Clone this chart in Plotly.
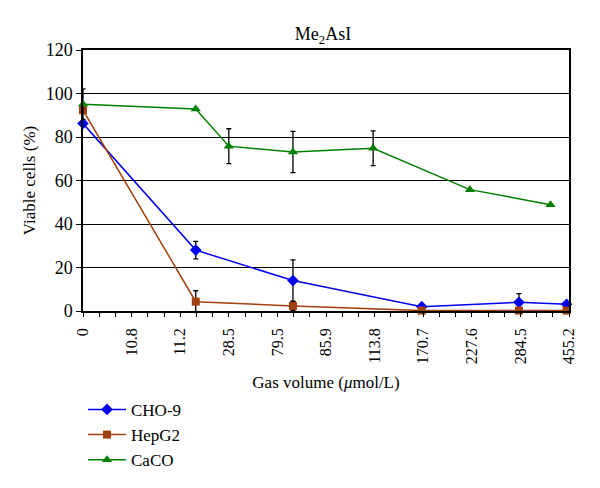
import plotly.graph_objects as go

# tick labels (evenly spaced positions on the axis)
tick_labels = ["0", "10.8", "11.2", "28.5", "79.5", "85.9", "113.8", "170.7", "227.6", "284.5", "455.2"]
tick_pos = list(range(len(tick_labels)))

# series (x in axis-position units)
cho_x = [0, 2.32, 4.32, 6.97, 8.97, 9.95]
cho_y = [86.2, 28.0, 14.0, 2.0, 4.0, 3.1]
cho_err = [0, 4.0, 9.5, 0, 4.0, 0]

hep_x = [0, 2.32, 4.32, 6.97, 8.97, 9.95]
hep_y = [92.3, 4.3, 2.3, 0.2, 0.2, 0.2]
hep_err = [0, 5.0, 2.0, 0, 0, 0]

caco_x = [0, 2.32, 3.0, 4.32, 5.97, 7.96, 9.62]
caco_y = [95.1, 92.9, 75.8, 73.1, 74.8, 55.8, 48.9]
caco_err = [7.0, 0, 8.0, 9.5, 8.0, 0, 0]

FONT = "Liberation Serif"

fig = go.Figure()

def add(name, x, y, err, color, symbol, size):
    fig.add_trace(go.Scatter(
        x=x, y=y, name=name, mode="lines+markers",
        line=dict(color=color, width=1.5),
        marker=dict(color=color, symbol=symbol, size=size),
        error_y=dict(type="data", array=err, visible=True, color="black", thickness=1.3, width=2.5),
        cliponaxis=False,
    ))

add("CHO-9", cho_x, cho_y, cho_err, "#0000EE", "diamond", 9)
add("HepG2", hep_x, hep_y, hep_err, "#A0400C", "square", 8)
add("CaCO", caco_x, caco_y, caco_err, "#008000", "triangle-up", 9)

fig.update_layout(
    width=600, height=488,
    margin=dict(l=75, r=39, t=42, b=185, autoexpand=False),
    paper_bgcolor="white", plot_bgcolor="white",
    font=dict(family=FONT, size=16, color="black"),
    title=dict(text="Me<sub>2</sub>AsI", x=0.525, xanchor="center", y=0.947, yanchor="middle",
               font=dict(family=FONT, size=18)),
    showlegend=True,
    legend=dict(x=0.0, xanchor="left", y=-0.31, yanchor="top", orientation="v",
                font=dict(family=FONT, size=17), bgcolor="rgba(0,0,0,0)", tracegroupgap=4,
                itemwidth=38),
    xaxis=dict(
        range=[0, 10], tickmode="array", tickvals=tick_pos, ticktext=tick_labels,
        tickangle=-90, ticks="outside", ticklen=4, tickcolor="black", ticklabelstandoff=5,
        showline=True, linecolor="black", linewidth=1.5, mirror=True,
        showgrid=False, zeroline=False, automargin=False,
        minor=dict(tickmode="linear", tick0=0, dtick=1/3, ticks="outside", ticklen=4, tickcolor="black", showgrid=False),
        title=dict(text="Gas volume (<i>μ</i>mol/L)", standoff=13, font=dict(family=FONT, size=17)),
        tickfont=dict(family=FONT, size=16),
    ),
    yaxis=dict(
        range=[0, 120], tickmode="linear", tick0=0, dtick=20,
        ticks="outside", ticklen=5, tickcolor="black",
        showline=True, linecolor="black", linewidth=1.5, mirror=True,
        showgrid=True, gridcolor="black", gridwidth=1.3, zeroline=False, automargin=False,
        title=dict(text="Viable cells (%)", standoff=6, font=dict(family=FONT, size=17)),
        tickfont=dict(family=FONT, size=18),
    ),
)

fig.write_html("out.html")
